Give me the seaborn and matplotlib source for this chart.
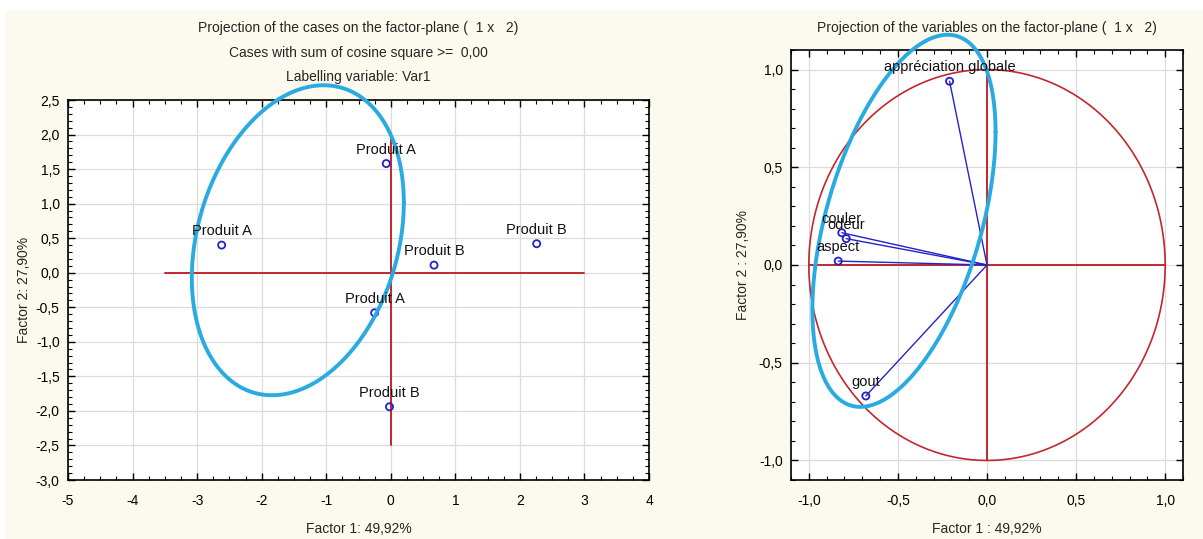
import numpy as np
import pandas as pd
import matplotlib
matplotlib.use("Agg")
import matplotlib.pyplot as plt
import seaborn as sns
from matplotlib.ticker import MultipleLocator, FuncFormatter
from matplotlib.patches import Rectangle

# ---------------- data ----------------
case_labels = ["Produit A", "Produit A", "Produit B", "Produit B", "Produit A", "Produit B"]
case_f1 = [-2.62, -0.07, 0.67, 2.26, -0.25, -0.02]
case_f2 = [0.40, 1.58, 0.11, 0.42, -0.58, -1.94]

var_labels = ["appréciation globale", "couler", "odeur", "aspect", "gout"]
var_f1 = [-0.21, -0.815, -0.79, -0.835, -0.68]
var_f2 = [0.94, 0.165, 0.135, 0.02, -0.67]

left_titles = ["Projection of the cases on the factor-plane (  1 x   2)",
               "Cases with sum of cosine square >=  0,00",
               "Labelling variable: Var1"]
right_title = "Projection of the variables on the factor-plane (  1 x   2)"
left_xlabel = "Factor 1: 49,92%"
left_ylabel = "Factor 2: 27,90%"
right_xlabel = "Factor 1 : 49,92%"
right_ylabel = "Factor 2 : 27,90%"

# hand-drawn highlight ellipses (centre, conjugate semi-axes) in data units
left_ell_center = [-1.44, 0.47]
left_ell_u = [1.642, 0.546]
left_ell_v = [0.0, 2.176]
right_ell_center = [-0.466, 0.226]
right_ell_u = [0.514, 0.4545]
right_ell_v = [0.0, 0.8365]

# ---------------- style ----------------
sns.set_style("white")
plt.rcParams["font.family"] = ["Liberation Sans", "DejaVu Sans"]

RED = "#c1272d"
BLUE = "#2323c8"
CYAN = "#29abe2"
CREAM = "#fcf9ee"
GRID = "#dcdcdc"

W, H = 1203, 539
fig = plt.figure(figsize=(W / 100, H / 100), dpi=100)
fig.patch.set_facecolor("white")
fig.add_artist(Rectangle((5 / W, 0), 1, 1 - 10 / H, transform=fig.transFigure,
                         facecolor=CREAM, edgecolor="none", zorder=-10))


def px_axes(x0, y0, x1, y1):
    return fig.add_axes([x0 / W, 1 - y1 / H, (x1 - x0) / W, (y1 - y0) / H])


comma = FuncFormatter(lambda v, p: f"{v:.1f}".replace(".", ","))
intfmt = FuncFormatter(lambda v, p: f"{int(round(v))}")


def style_axes(ax):
    ax.set_facecolor("white")
    for s in ax.spines.values():
        s.set_color("black")
        s.set_linewidth(1.2)
        s.set_visible(True)
    ax.tick_params(which="both", direction="in", top=True, right=True,
                   left=True, bottom=True, colors="black", labelsize=10)
    ax.tick_params(which="major", length=5, width=1)
    ax.tick_params(axis="x", which="major", pad=10)
    ax.tick_params(axis="y", which="major", pad=6)
    ax.tick_params(which="minor", length=3, width=0.8)
    ax.grid(True, which="major", color=GRID, linewidth=0.9)
    ax.set_axisbelow(True)


def ellipse(ax, c, u, v):
    t = np.linspace(0, 2 * np.pi, 300)
    x = c[0] + u[0] * np.cos(t) + v[0] * np.sin(t)
    y = c[1] + u[1] * np.cos(t) + v[1] * np.sin(t)
    ax.plot(x, y, color=CYAN, lw=2.8, clip_on=False, zorder=6)


# ---------------- left: cases ----------------
axL = px_axes(68, 100, 649, 480)
style_axes(axL)
axL.set_xlim(-5, 4)
axL.set_ylim(-3, 2.5)
axL.xaxis.set_major_locator(MultipleLocator(1))
axL.xaxis.set_minor_locator(MultipleLocator(0.25))
axL.yaxis.set_major_locator(MultipleLocator(0.5))
axL.yaxis.set_minor_locator(MultipleLocator(0.1))
axL.xaxis.set_major_formatter(intfmt)
axL.yaxis.set_major_formatter(comma)

axL.plot([-3.5, 3], [0, 0], color=RED, lw=1.4, zorder=2)
axL.plot([0, 0], [-2.5, 2.0], color=RED, lw=1.4, zorder=2)

dfc = pd.DataFrame({"f1": case_f1, "f2": case_f2, "lab": case_labels})
sns.scatterplot(data=dfc, x="f1", y="f2", ax=axL, marker="o", s=26,
                facecolors="none", edgecolor=BLUE, linewidth=1.3, zorder=5)
for x, y, lab in zip(case_f1, case_f2, case_labels):
    axL.annotate(lab, (x, y), xytext=(0, 5), textcoords="offset points",
                 ha="center", va="bottom", fontsize=10.5, color="#111111", zorder=7)
ellipse(axL, left_ell_center, left_ell_u, left_ell_v)
axL.set_xlabel(left_xlabel, fontsize=10, labelpad=10)
axL.set_ylabel(left_ylabel, fontsize=10, labelpad=3)

cx = (68 + 649) / 2 / W
for i, t in enumerate(left_titles):
    fig.text(cx, 1 - (28 + 24.5 * i) / H, t, ha="center", va="center", fontsize=10)

# ---------------- right: variables ----------------
axR = px_axes(791, 50, 1183, 480)
style_axes(axR)
axR.set_xlim(-1.1, 1.1)
axR.set_ylim(-1.1, 1.1)
for a in (axR.xaxis, axR.yaxis):
    a.set_major_locator(MultipleLocator(0.5))
    a.set_minor_locator(MultipleLocator(0.1))
    a.set_major_formatter(comma)

th = np.linspace(0, 2 * np.pi, 400)
axR.plot(np.cos(th), np.sin(th), color=RED, lw=1.2, zorder=2)
axR.plot([-1, 1], [0, 0], color=RED, lw=1.4, zorder=2)
axR.plot([0, 0], [-1, 1], color=RED, lw=1.4, zorder=2)

for x, y in zip(var_f1, var_f2):
    axR.plot([0, x], [0, y], color=BLUE, lw=1.0, zorder=3)
dfv = pd.DataFrame({"f1": var_f1, "f2": var_f2, "lab": var_labels})
sns.scatterplot(data=dfv, x="f1", y="f2", ax=axR, marker="o", s=26,
                facecolors="none", edgecolor=BLUE, linewidth=1.3, zorder=5)
for x, y, lab in zip(var_f1, var_f2, var_labels):
    axR.annotate(lab, (x, y), xytext=(0, 5), textcoords="offset points",
                 ha="center", va="bottom", fontsize=10.5, color="#111111", zorder=7)
ellipse(axR, right_ell_center, right_ell_u, right_ell_v)
axR.set_xlabel(right_xlabel, fontsize=10, labelpad=10)
axR.set_ylabel(right_ylabel, fontsize=10, labelpad=6)
fig.text((791 + 1183) / 2 / W, 1 - 28 / H, right_title, ha="center", va="center", fontsize=10)

fig.savefig("out.png", dpi=100, facecolor=fig.get_facecolor())
